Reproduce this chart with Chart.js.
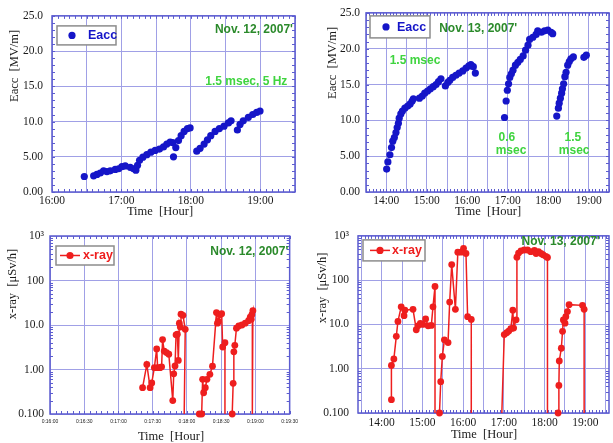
<!DOCTYPE html>
<html lang="en">
<head>
<meta charset="utf-8">
<title>Eacc and x-ray, Nov. 12-13, 2007</title>
<script src="https://cdn.jsdelivr.net/npm/chart.js@4.4.1/dist/chart.umd.min.js"></script>
<style>
  html, body { margin: 0; padding: 0; background: #fff; }
  .sheet { position: relative; width: 613px; height: 443px; overflow: hidden; }
  .panel { position: absolute; }
  #p-eacc12 { left: 0; top: 0; width: 303px; height: 220px; }
  #p-eacc13 { left: 303px; top: 0; width: 310px; height: 220px; }
  #p-xray12 { left: 0; top: 220px; width: 303px; height: 223px; }
  #p-xray13 { left: 303px; top: 220px; width: 310px; height: 223px; }
</style>
</head>
<body>
<div class="sheet">
  <div class="panel" id="p-eacc12"><canvas id="eacc12"></canvas></div>
  <div class="panel" id="p-eacc13"><canvas id="eacc13"></canvas></div>
  <div class="panel" id="p-xray12"><canvas id="xray12"></canvas></div>
  <div class="panel" id="p-xray13"><canvas id="xray13"></canvas></div>
</div>
<script>
// Eacc [MV/m] vs time of day [hour], Nov. 12
const eacc12Hours = [
  16.465, 16.60, 16.647, 16.695, 16.743, 16.791, 16.839, 16.911, 16.959, 17.007,
  17.055, 17.127, 17.175, 17.208, 17.232, 17.261, 17.309, 17.366, 17.424, 17.486,
  17.548, 17.606, 17.654, 17.702, 17.74, 17.75, 17.783, 17.822, 17.86, 17.903,
  17.951, 17.989, 18.085, 18.133, 18.191, 18.239, 18.287, 18.349, 18.411, 18.478,
  18.541, 18.579, 18.67, 18.708, 18.755, 18.828, 18.891, 18.948, 18.996,
];
const eacc12Values = [
  2.2, 2.3, 2.5, 2.7, 3.0, 2.9, 3.0, 3.2, 3.3, 3.6,
  3.7, 3.5, 3.3, 3.1, 3.8, 4.5, 4.95, 5.3, 5.65, 5.9,
  6.1, 6.4, 6.8, 7.1, 7.0, 5.0, 6.3, 7.3, 8.0, 8.6,
  9.0, 9.1, 5.8, 6.2, 6.8, 7.4, 8.0, 8.6, 9.0, 9.35,
  9.8, 10.1, 8.8, 9.6, 10.1, 10.6, 11.0, 11.3, 11.5,
];

// Eacc [MV/m], Nov. 13
const eacc13Hours = [
  14.01, 14.04, 14.09, 14.13, 14.16, 14.20, 14.24, 14.27, 14.30, 14.32,
  14.36, 14.40, 14.46, 14.53, 14.59, 14.64, 14.67, 14.82, 14.89, 14.95,
  15.02, 15.09, 15.16, 15.23, 15.29, 15.35, 15.46, 15.52, 15.57, 15.64,
  15.72, 15.80, 15.89, 15.97, 16.04, 16.09, 16.15, 16.20,
  16.92, 16.96, 16.99, 17.02, 17.05, 17.09, 17.13, 17.19, 17.25, 17.31,
  17.38, 17.44, 17.50, 17.54, 17.62, 17.70, 17.74, 17.83, 17.91, 17.99,
  18.07, 18.11,
  18.21, 18.25, 18.27, 18.30, 18.33, 18.35, 18.38, 18.41, 18.44, 18.48,
  18.52, 18.56, 18.62, 18.88, 18.94,
];
const eacc13Values = [
  3.2, 4.2, 5.2, 6.2, 7.1, 7.6, 8.3, 9.0, 9.6, 10.3,
  10.9, 11.3, 11.7, 12.0, 12.3, 12.7, 13.0, 13.1, 13.4, 13.8,
  14.1, 14.4, 14.7, 15.0, 15.4, 15.8, 14.8, 15.3, 15.6, 16.0,
  16.3, 16.6, 16.9, 17.3, 17.6, 17.8, 17.5, 16.6,
  10.4, 12.7, 14.2, 15.1, 16.0, 16.5, 17.0, 17.7, 18.1, 18.5,
  19.0, 19.8, 20.5, 21.3, 21.6, 22.0, 22.5, 22.3, 22.5, 22.6,
  22.3, 22.1,
  10.6, 11.7, 12.4, 13.1, 13.8, 14.4, 15.1, 16.1, 16.7, 17.7,
  18.2, 18.6, 18.85, 18.8, 19.1,
];

// x-ray [uSv/h]; 0 = below the scale (trace drops to the axis), null = no reading
const xray12Hours = [
  17.352, 17.414, 17.462, 17.486, 17.524, 17.558, 17.572, 17.606, 17.630, 17.644,
  17.668, 17.702, 17.735, 17.793, 17.807, 17.826, 17.841, 17.860, 17.874, 17.889,
  17.903, 17.913, 17.942, 17.975, 17.96, 17.96,
  18.181, 18.215, 18.229, 18.244, 18.268, 18.292, 18.335, 18.373, 18.431, 18.445,
  18.459, 18.483, 18.507, 18.522, 18.555, 18.555, 18.555,
  18.661, 18.675, 18.685, 18.699, 18.723, 18.757, 18.804, 18.852, 18.900, 18.924,
  18.939, 18.948, 18.963, 18.955,
];
const xray12Values = [
  0.39, 1.3, 0.39, 0.5, 1.1, 2.9, 1.1, 1.1, 1.15, 4.7,
  2.6, 2.4, 2.2, 0.2, 0.8, 1.2, 6.0, 6.2, 1.6, 11,
  9, 17.5, 16.5, 8, 0, null,
  0.1, 0.1, 0.6, 0.3, 0.39, 0.6, 0.78, 1.19, 19, 11,
  12, 17, 18, 3.2, 4, 0, null,
  0.1, 0.49, 2.5, 3.5, 8.5, 9.5, 10, 11, 12.5, 15,
  13.5, 17, 21, 0,
];

const xray13Hours = [
  14.24, 14.24, 14.30, 14.36, 14.40, 14.48, 14.55, 14.57, 14.77, 14.85,
  14.89, 14.95, 15.01, 15.08, 15.14, 15.22, 15.26, 15.31, 15.31, 15.31,
  15.42, 15.45, 15.49, 15.54, 15.63, 15.67, 15.72, 15.81, 15.87, 15.95,
  16.01, 16.07, 16.11, 16.20, 16.20, 16.20,
  16.95, 17.01, 17.07, 17.12, 17.17, 17.22, 17.24, 17.30, 17.32, 17.36,
  17.42, 17.50, 17.58, 17.66, 17.75, 17.79, 17.85, 17.91, 17.96, 18.03,
  18.07, 18.07, 18.07,
  18.33, 18.35, 18.36, 18.41, 18.44, 18.46, 18.50, 18.52, 18.56, 18.60,
  18.93, 18.97, 18.97,
];
const xray13Values = [
  0.2, 1.19, 1.66, 5.4, 11.7, 25, 15.8, 21, 22, 7.6,
  9.3, 10.5, 10, 13.3, 9.3, 9.5, 25, 72, 0, null,
  0.1, 0.51, 1.9, 4.5, 3.9, 32, 225, 22, 430, 430,
  525, 400, 15, 13, 0, null,
  0, 5.9, 6.5, 7.1, 8.0, 21, 8.3, 12.7, 330, 410,
  460, 480, 480, 440, 470, 400, 440, 400, 375, 345,
  325, 0, null,
  0.1, 0.42, 1.5, 2.9, 7, 12.6, 10.7, 15, 19.5, 28,
  27, 22, 0,
];

// axis ticks
const eaccTicks = [0, 5, 10, 15, 20, 25];
const eaccTickLabels = ["0.00", "5.00", "10.0", "15.0", "20.0", "25.0"];
const doseTicks = [0.1, 1, 10, 100, 1000];
const doseTickLabels = ["0.100", "1.00", "10.0", "100", "10\u00b3"];
const halfHours12 = [16, 16.5, 17, 17.5, 18, 18.5, 19, 19.5];
const halfHours13 = [13.5, 14, 14.5, 15, 15.5, 16, 16.5, 17, 17.5, 18, 18.5, 19, 19.5];

const blue = "#1515c8";
const red = "#ee1e1e";
const darkGreen = "#2b8a2b";
const lightGreen = "#3fd43f";
const frameColor = "#5c5cd0";
const gridColor = "#a0a0e6";
const ink = "#1a1a1a";

Chart.defaults.font.family = "'Liberation Serif', serif";
Chart.defaults.color = ink;

const hourLabel = (v) => (Number.isInteger(v) ? `${v}:00` : "");
const clockLabel = (v) => `0:${Math.floor(v)}:${v % 1 ? "30" : "00"}`;

function minorValues(scale, step) {
  const out = [];
  if (scale.type === "logarithmic") {
    for (let d = Math.round(Math.log10(scale.min)); d < Math.round(Math.log10(scale.max)); d++) {
      for (let m = 2; m < 10; m++) out.push(m * 10 ** d);
    }
    return out;
  }
  for (let v = Math.ceil(scale.min / step - 1e-6) * step; v <= scale.max + 1e-6; v += step) out.push(v);
  return out;
}

// frame, minor ticks, legend box, notes and axis titles
const decor = {
  id: "decor",
  beforeDatasetsDraw(chart, args, o) {
    const { ctx, chartArea: a, scales } = chart;
    ctx.save();
    ctx.strokeStyle = frameColor;
    ctx.lineWidth = 1;
    ctx.beginPath();
    for (const v of minorValues(scales.x, 1 / 12)) {
      const px = Math.round(scales.x.getPixelForValue(v)) + 0.5;
      ctx.moveTo(px, a.top);
      ctx.lineTo(px, a.top + 3);
      ctx.moveTo(px, a.bottom);
      ctx.lineTo(px, a.bottom - 3);
    }
    for (const v of minorValues(scales.y, 1)) {
      const py = Math.round(scales.y.getPixelForValue(v)) + 0.5;
      ctx.moveTo(a.left, py);
      ctx.lineTo(a.left + 3, py);
      ctx.moveTo(a.right, py);
      ctx.lineTo(a.right - 3, py);
    }
    ctx.stroke();
    ctx.lineWidth = 1.5;
    ctx.strokeRect(a.left, a.top, a.right - a.left, a.bottom - a.top);
    ctx.restore();
  },
  afterDraw(chart, args, o) {
    const { ctx, chartArea: a, scales } = chart;
    const ds = chart.data.datasets[0];
    ctx.save();

    // legend
    const lg = o.legend;
    const lx = a.left + lg.dx;
    const ly = a.top + lg.dy;
    ctx.fillStyle = "#fff";
    ctx.fillRect(lx, ly, lg.w, lg.h);
    ctx.strokeStyle = "#8c8c8c";
    ctx.lineWidth = 1.5;
    ctx.strokeRect(lx, ly, lg.w, lg.h);
    const cy = ly + lg.h / 2;
    const color = ds.showLine ? ds.borderColor : ds.backgroundColor;
    if (ds.showLine) {
      ctx.strokeStyle = color;
      ctx.lineWidth = 1.5;
      ctx.beginPath();
      ctx.moveTo(lx + lg.marker - 10, cy);
      ctx.lineTo(lx + lg.marker + 10, cy);
      ctx.stroke();
    }
    ctx.fillStyle = color;
    ctx.beginPath();
    ctx.arc(lx + lg.marker, cy, 3.6, 0, Math.PI * 2);
    ctx.fill();
    ctx.font = "bold 12.5px 'Liberation Sans', sans-serif";
    ctx.textAlign = "left";
    ctx.textBaseline = "middle";
    ctx.fillText(ds.label, lx + lg.text, cy + 0.5);

    // notes placed in data coordinates
    ctx.font = "bold 12px 'Liberation Sans', sans-serif";
    for (const n of o.notes) {
      ctx.fillStyle = n.color;
      ctx.textAlign = n.align || "center";
      ctx.fillText(n.text, scales.x.getPixelForValue(n.x), scales.y.getPixelForValue(n.y));
    }

    // axis titles
    ctx.fillStyle = ink;
    ctx.font = "12.5px 'Liberation Serif', serif";
    ctx.textAlign = "center";
    ctx.fillText("Time  [Hour]", a.left + o.xTitle.dx, a.bottom + o.xTitle.dy);
    ctx.translate(o.yTitle.x, a.top + o.yTitle.dy);
    ctx.rotate(-Math.PI / 2);
    ctx.fillText(o.yTitle.text, 0, 0);
    ctx.restore();
  },
};

function hourAxis(min, max, ticks, label, height, font, pad) {
  return {
    type: "linear",
    min,
    max,
    afterBuildTicks: (axis) => {
      axis.ticks = ticks.map((value) => ({ value }));
    },
    afterFit: (axis) => {
      axis.height = height;
    },
    ticks: { callback: (v) => label(v), font, padding: pad, autoSkip: false, maxRotation: 0 },
    grid: { color: gridColor, lineWidth: 1, drawTicks: false },
    border: { display: false },
  };
}

function valueAxis(type, min, max, ticks, labels, width, pad) {
  return {
    type,
    min,
    max,
    afterBuildTicks: (axis) => {
      axis.ticks = ticks.map((value) => ({ value }));
    },
    afterFit: (axis) => {
      axis.width = width;
    },
    ticks: { callback: (v, i) => labels[i], font: { size: 11.5 }, padding: pad, autoSkip: false },
    grid: { color: gridColor, lineWidth: 1, drawTicks: false },
    border: { display: false },
  };
}

function eaccDataset(hours, values) {
  return {
    label: "Eacc",
    data: hours.map((h, i) => ({ x: h, y: values[i] })),
    backgroundColor: blue,
    borderColor: blue,
    pointRadius: 3.6,
    pointBorderWidth: 0,
    showLine: false,
    clip: 6,
  };
}

function xrayDataset(hours, values) {
  return {
    label: "x-ray",
    data: hours.map((h, i) =>
      values[i] === 0 ? { x: h, y: doseTicks[0], floor: true } : { x: h, y: values[i] },
    ),
    borderColor: red,
    backgroundColor: red,
    borderWidth: 1.5,
    pointRadius: (ctx) => (ctx.raw && ctx.raw.floor ? 0 : 3.4),
    pointBorderWidth: 0,
    showLine: true,
    spanGaps: false,
    tension: 0,
    clip: 6,
  };
}

function makeChart(id, dataset, scales, padding, decorOptions) {
  return new Chart(document.getElementById(id), {
    type: "scatter",
    data: { datasets: [dataset] },
    options: {
      responsive: true,
      maintainAspectRatio: false,
      animation: false,
      events: [],
      layout: { padding },
      scales,
      plugins: { legend: { display: false }, tooltip: { enabled: false }, decor: decorOptions },
    },
    plugins: [decor],
  });
}

const tickFont = { size: 11.5 };

makeChart(
  "eacc12",
  eaccDataset(eacc12Hours, eacc12Values),
  {
    x: hourAxis(16, 19.5, halfHours12, hourLabel, 28, tickFont, 2),
    y: valueAxis("linear", 0, 25, eaccTicks, eaccTickLabels, 52, 9),
  },
  { top: 12, right: 8, bottom: 0, left: 0 },
  {
    legend: { dx: 5, dy: 10, w: 59, h: 19, marker: 15, text: 31 },
    notes: [
      { text: "Nov. 12, 2007'", x: 19.47, y: 23.0, color: darkGreen, align: "right" },
      { text: "1.5 msec, 5 Hz", x: 19.39, y: 15.7, color: lightGreen, align: "right" },
    ],
    xTitle: { dx: 108, dy: 20 },
    yTitle: { text: "Eacc  [MV/m]", x: 15, dy: 50 },
  },
);

makeChart(
  "eacc13",
  eaccDataset(eacc13Hours, eacc13Values),
  {
    x: hourAxis(13.5, 19.5, halfHours13, hourLabel, 28, tickFont, 2),
    y: valueAxis("linear", 0, 25, eaccTicks, eaccTickLabels, 63, 6),
  },
  { top: 12, right: 3, bottom: 0, left: 0 },
  {
    legend: { dx: 4, dy: 3, w: 60, h: 22, marker: 16, text: 27 },
    notes: [
      { text: "Nov. 13, 2007'", x: 16.27, y: 22.8, color: darkGreen },
      { text: "1.5 msec", x: 14.71, y: 18.3, color: lightGreen },
      { text: "0.6", x: 16.98, y: 7.6, color: lightGreen },
      { text: "msec", x: 17.08, y: 5.7, color: lightGreen },
      { text: "1.5", x: 18.61, y: 7.6, color: lightGreen },
      { text: "msec", x: 18.64, y: 5.7, color: lightGreen },
    ],
    xTitle: { dx: 122, dy: 20 },
    yTitle: { text: "Eacc  [MV/m]", x: 30, dy: 50 },
  },
);

makeChart(
  "xray12",
  xrayDataset(xray12Hours, xray12Values),
  {
    x: hourAxis(16, 19.5, halfHours12, clockLabel, 29, { size: 5, family: "'Liberation Sans', sans-serif" }, 5),
    y: valueAxis("logarithmic", 0.1, 1000, doseTicks, doseTickLabels, 50, 6),
  },
  { top: 16, right: 10, bottom: 0, left: 0 },
  {
    legend: { dx: 6, dy: 10, w: 58, h: 19, marker: 14, text: 27 },
    notes: [{ text: "Nov. 12, 2007'", x: 19.48, y: 437, color: darkGreen, align: "right" }],
    xTitle: { dx: 121, dy: 23 },
    yTitle: { text: "x-ray  [\u03bcSv/h]", x: 13, dy: 48 },
  },
);

makeChart(
  "xray13",
  xrayDataset(xray13Hours, xray13Values),
  {
    x: hourAxis(13.42, 19.58, halfHours13, hourLabel, 30, tickFont, 3),
    y: valueAxis("logarithmic", 0.1, 1000, doseTicks, doseTickLabels, 55, 9),
  },
  { top: 12, right: 3, bottom: 0, left: 0 },
  {
    legend: { dx: 5, dy: 4, w: 62, h: 21, marker: 17, text: 29 },
    notes: [{ text: "Nov. 13, 2007'", x: 18.39, y: 740, color: darkGreen }],
    xTitle: { dx: 126, dy: 22 },
    yTitle: { text: "x-ray  [\u03bcSv/h]", x: 20, dy: 52 },
  },
);
</script>
</body>
</html>
